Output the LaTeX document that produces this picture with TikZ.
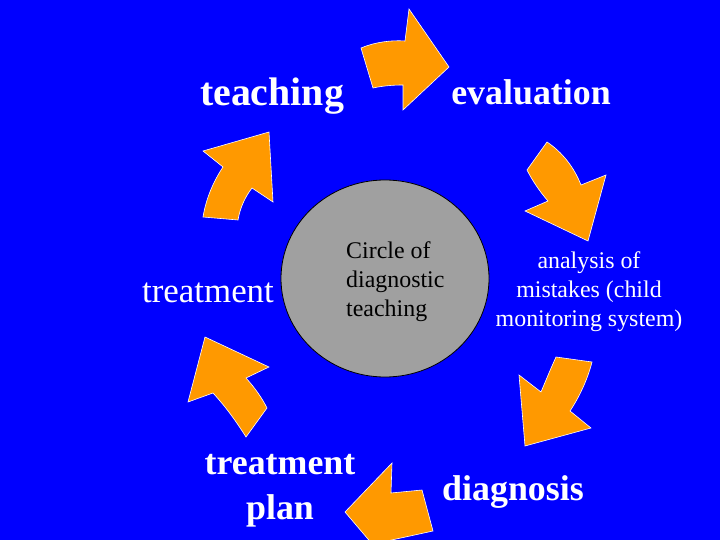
\documentclass[tikz,border=0pt]{standalone}
\usepackage{fontspec}
\setmainfont{Liberation Serif}
\usetikzlibrary{shapes.geometric}
\definecolor{slideblue}{RGB}{0,0,255}
\definecolor{arroworange}{RGB}{255,153,0}
\definecolor{circlegray}{RGB}{160,160,160}
\tikzset{
  blockarrow/.style={fill=arroworange, draw=white, line width=0.6pt, line join=miter},
  steplabel/.style={text=white, inner sep=0pt},
  bigbold/.style={font=\fontsize{36}{45}\selectfont\bfseries},
  smalltext/.style={font=\fontsize{24}{29}\selectfont}
}
\begin{document}
\begin{tikzpicture}[x=1bp,y=-1bp]
\clip (0,0) rectangle (720,540);
\fill [slideblue] (0,0) rectangle (720,540);

% centre circle
\node (hub) [ellipse, minimum width=208bp, minimum height=197bp, fill=circlegray, draw=black, line width=0.8pt] at (385,278.5) {};
\node (hubtext) [anchor=west, align=left, smalltext, inner sep=0pt] at (346,281.5) {Circle of\\diagnostic\\ teaching};

% labels round the circle
\node (teaching) [steplabel, font=\fontsize{40}{48}\selectfont\bfseries, anchor=base] at (272,106) {teaching};
\node (evaluation) [steplabel, bigbold, anchor=base] at (531,105) {evaluation};
\node (analysis) [steplabel, smalltext, align=center] at (589,292) {analysis of\\mistakes (child\\monitoring system)};
\node (diagnosis) [steplabel, bigbold, anchor=base] at (513,500) {diagnosis};
\node (plan) [steplabel, bigbold, align=center] at (280,491) {treatment\\plan};
\node (treatment) [steplabel, font=\fontsize{35}{42}\selectfont, anchor=base] at (208,302) {treatment};

% block arrows
\draw [blockarrow] (361,48) .. controls (375,42) and (392,40) .. (405,41) -- (409,9) -- (449,67) -- (403,110) -- (403,85) .. controls (392,85) and (382,86) .. (373,88) -- cycle;
\draw [blockarrow] (547,142) .. controls (562,152) and (574,167) .. (581,185) -- (606,175) -- (588,241) -- (525,211) -- (548,201) .. controls (540,192) and (532,180) .. (527,170) -- cycle;
\draw [blockarrow] (556,357) -- (592,362) .. controls (588,378) and (580,396) .. (570,411) -- (591,428) -- (525,446) -- (519,375) -- (541,392) .. controls (546,380) and (551,368) .. (556,357) -- cycle;
\draw [blockarrow] (392,463) -- (391,493) -- (422,490) -- (433,531) -- (387,541) -- (390,565) -- (345,512) -- cycle;
\draw [blockarrow] (205,337) -- (269,367) -- (246,378) .. controls (255,388) and (262,398) .. (267,408) -- (246,437) .. controls (236,421) and (225,406) .. (213,393) -- (188,402) -- cycle;
\draw [blockarrow] (203,151) -- (223,167) .. controls (213,182) and (206,199) .. (203,217) -- (238,220) .. controls (240,208) and (245,197) .. (252,188) -- (273,202) -- (269,132) -- cycle;

\end{tikzpicture}
\end{document}
